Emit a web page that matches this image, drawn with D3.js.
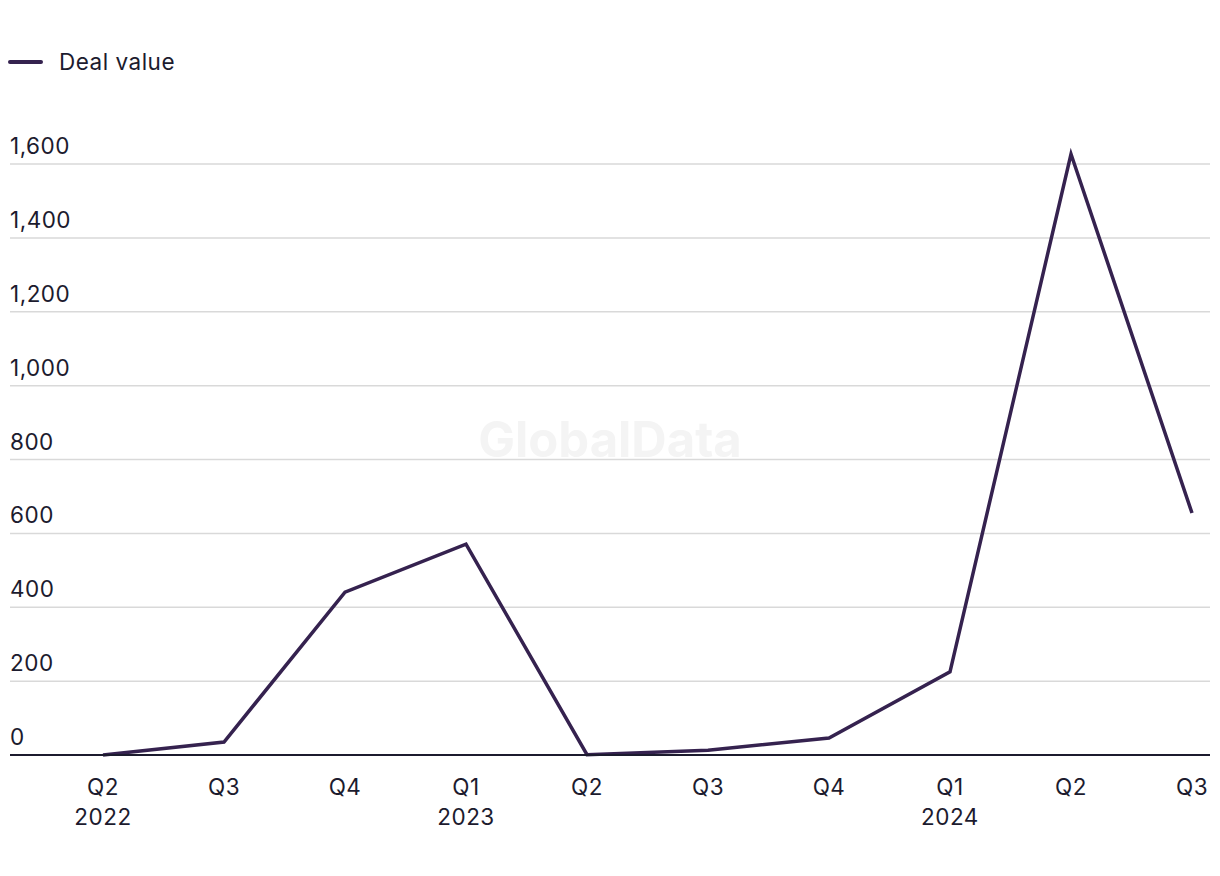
<!DOCTYPE html>
<html>
<head>
<meta charset="utf-8">
<script src="https://cdn.jsdelivr.net/npm/d3@7"></script>
<style>
  body { margin: 0; background: #fff; }
  svg text { font-family: Inter, "Liberation Sans", sans-serif; fill: #1c1b2e; letter-spacing: 0.5px; }
</style>
</head>
<body>
<svg id="chart" width="1220" height="876"></svg>
<script>
// quarter labels and deal values
var quarters = ["Q2", "Q3", "Q4", "Q1", "Q2", "Q3", "Q4", "Q1", "Q2", "Q3"];
var years = ["2022", "", "", "2023", "", "", "", "2024", "", ""];
var dealValue = [0, 35, 441, 571, 1, 13, 46, 225, 1627, 655];
var yTicks = [0, 200, 400, 600, 800, 1000, 1200, 1400, 1600];

var svg = d3.select("#chart");
var plotLeft = 10, plotRight = 1210, plotTop = 164, plotBottom = 755;
var lineColor = "#35224f";
var fontSize = "22.5px";

var x = d3.scalePoint()
    .domain(d3.range(quarters.length))
    .range([103, 1192]);

var y = d3.scaleLinear()
    .domain([0, 1600])
    .range([plotBottom, plotTop]);

// watermark
svg.append("text")
    .attr("x", 610).attr("y", 457)
    .attr("text-anchor", "middle")
    .style("font-size", "49px")
    .style("font-weight", "bold")
    .style("letter-spacing", "0px")
    .style("fill", "#f4f4f4")
    .text("GlobalData");

// grid lines
svg.append("g").selectAll("line")
    .data(yTicks.filter(function(d){ return d > 0; }))
    .enter().append("line")
    .attr("x1", plotLeft).attr("x2", plotRight)
    .attr("y1", function(d){ return y(d); })
    .attr("y2", function(d){ return y(d); })
    .attr("stroke", "#d9d9d9")
    .attr("stroke-width", 1.5);

// y labels
svg.append("g").selectAll("text")
    .data(yTicks)
    .enter().append("text")
    .attr("x", plotLeft)
    .attr("y", function(d){ return y(d) - 10; })
    .style("font-size", fontSize)
    .text(function(d){ return d3.format(",")(d); });

// the line
var line = d3.line()
    .x(function(d, i){ return x(i); })
    .y(function(d){ return y(d); });

svg.append("path")
    .datum(dealValue)
    .attr("d", line)
    .attr("fill", "none")
    .attr("stroke", lineColor)
    .attr("stroke-width", 3.5)
    .attr("stroke-linejoin", "miter");

// zero axis
svg.append("line")
    .attr("x1", plotLeft).attr("x2", plotRight)
    .attr("y1", y(0)).attr("y2", y(0))
    .attr("stroke", "#1c1b2e")
    .attr("stroke-width", 2);

// x labels
var xl = svg.append("g").selectAll("g")
    .data(quarters)
    .enter().append("g");

xl.append("text")
    .attr("x", function(d, i){ return x(i); })
    .attr("y", 795)
    .attr("text-anchor", "middle")
    .style("font-size", fontSize)
    .text(function(d){ return d; });

xl.append("text")
    .attr("x", function(d, i){ return x(i); })
    .attr("y", 825)
    .attr("text-anchor", "middle")
    .style("font-size", fontSize)
    .text(function(d, i){ return years[i]; });

// legend
svg.append("line")
    .attr("x1", 10).attr("x2", 41)
    .attr("y1", 62).attr("y2", 62)
    .attr("stroke", lineColor)
    .attr("stroke-width", 4)
    .attr("stroke-linecap", "round");

svg.append("text")
    .attr("x", 59).attr("y", 70)
    .style("font-size", fontSize)
    .text("Deal value");
</script>
</body>
</html>
